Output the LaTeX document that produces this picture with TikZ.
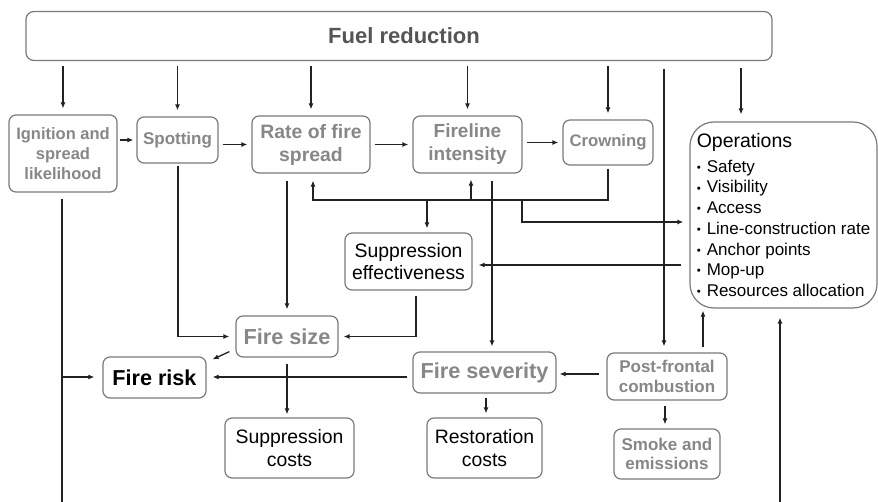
\documentclass[tikz,border=0pt]{standalone}
\usepackage{fontspec}
\setmainfont{Liberation Sans}
\usetikzlibrary{arrows.meta}

\definecolor{boxline}{HTML}{7A7A7A}
\definecolor{behav}{HTML}{878787}
\definecolor{fuelc}{HTML}{555555}
\definecolor{wirec}{HTML}{222222}

\newcommand\fsz[2]{\fontsize{#1}{#2}\selectfont}
% small list bullet for the operations box
\newcommand\opb{\makebox[10pt][l]{\raisebox{0.8pt}{\fsz{11.5}{11.5}•}}}

\begin{document}
\begin{tikzpicture}[x=1pt,y=-1pt,
  sz/.style 2 args={minimum width=#1pt, minimum height=#2pt},
  box/.style={draw=boxline, line width=1.2pt, rounded corners=7pt, inner sep=0pt, align=center},
  behave/.style={box, text=behav, font=\bfseries\fsz{17}{19.5}},
  plain/.style={box, text=black, font=\fsz{19.4}{22.5}},
  wire/.style={draw=wirec, line width=1.3pt},
  arr/.style={wire, -{Latex[length=6pt,width=5pt]}, shorten >=5pt, shorten <=5pt}
]
\useasboundingbox (0,0) rectangle (878,502);
\fill[white] (0,0) rectangle (878,502);

% ---- nodes ----
\node[box, sz={746}{49}, rounded corners=8pt, text=fuelc, font=\bfseries\fsz{22}{24}] (fuel) at (399,36) {\hspace*{10pt}Fuel reduction};

\node[behave, sz={108}{77}, font=\bfseries\fsz{16.5}{20}] (ign) at (63,153.5) {Ignition and\\spread\\likelihood};
\node[behave, sz={81}{46}] (spot) at (177.5,140) {Spotting};
\node[behave, sz={118}{57}, font=\bfseries\fsz{19.4}{23}] (rate) at (311,144.5) {Rate of fire\\spread};
\node[behave, sz={109}{57}, font=\bfseries\fsz{19}{23}] (fire) at (467.5,144.5) {Fireline\\intensity};
\node[behave, sz={90}{45}, font=\bfseries\fsz{16.7}{20}] (crown) at (608,142.5) {Crowning};

\node[box, rounded corners=24pt, sz={187}{186}, align=left, font=\fsz{17}{20.7}] (ops) at (783.5,215)
  {{\fsz{19.5}{24}Operations}\\[4pt]
   \opb Safety\\
   \opb Visibility\\
   \opb Access\\
   \opb Line-construction rate\\
   \opb Anchor points\\
   \opb Mop-up\\
   \opb Resources allocation};

\node[plain, sz={127}{57}] (supeff) at (408.5,261.5) {Suppression\\effectiveness};
\node[behave, sz={102}{41}, font=\bfseries\fsz{21.7}{24}] (fsize) at (287,336.5) {Fire size};
\node[box, sz={103}{41}, font=\bfseries\fsz{21.6}{24}] (frisk) at (154.5,377.5) {Fire risk};
\node[behave, sz={143}{41}, font=\bfseries\fsz{21.7}{24}] (fsev) at (484.5,372.5) {Fire severity};
\node[behave, sz={120}{47}] (post) at (667,376.5) {Post-frontal\\combustion};
\node[plain, sz={129}{60}] (supcost) at (289.5,448) {Suppression\\costs};
\node[plain, sz={115}{60}] (rest) at (484.5,448) {Restoration\\costs};
\node[behave, sz={106}{50}] (smoke) at (667,454) {Smoke and\\emissions};

% ---- junction and free-end coordinates ----
\coordinate (jrate) at (313,200);
\coordinate (jfire) at (471,200);
\coordinate (jsup)  at (427,200);
\coordinate (jops)  at (522,200);
\coordinate (jrisk) at (62,377);
\coordinate (bl) at (62,502);
\coordinate (br) at (780,502);

% ---- fuel reduction feeds ----
\foreach \n in {ign,spot,rate,fire,crown}
  \draw[arr, shorten >=6pt] (fuel.south -| \n) -- (\n.north);
\draw[arr, shorten <=8pt, shorten >=6pt] (664,0 |- fuel.south) -- (664,0 |- post.north);
\draw[arr, shorten <=7pt, shorten >=7pt] (741,0 |- fuel.south) -- (741,0 |- ops.north);

% ---- fire behaviour chain ----
\draw[arr, shorten <=2pt, shorten >=3pt] (ign.east |- spot) -- (spot.west);
\draw[arr, shorten <=4pt, shorten >=4pt] (spot.east |- rate) -- (rate.west);
\draw[arr, shorten <=4pt, shorten >=4pt] (rate.east) -- (fire.west);
\draw[arr, shorten <=4pt, shorten >=4pt] (fire.east |- crown) -- (crown.west);

% ---- crowning feedback ----
\draw[arr, shorten <=3pt, shorten >=7pt] (crown.south) |- (jrate) -- (jrate |- rate.south);
\draw[arr, shorten <=0pt, shorten >=6pt] (jfire) -- (jfire |- fire.south);
\draw[arr, shorten <=0pt, shorten >=4pt] (jsup) -- (jsup |- supeff.north);
\draw[arr, shorten <=0pt, shorten >=6pt] (jops) |- (ops.west |- 0,222);

% ---- operations and suppression ----
\draw[arr, shorten <=8pt, shorten >=6pt] (ops.west |- 0,265) -- (supeff.east |- 0,265);
\draw[arr, shorten >=5pt] (416,0 |- supeff.south) |- (fsize.east);
\draw[arr, shorten <=2pt, shorten >=6pt] (178,0 |- spot.south) |- (fsize.west);
\draw[arr, shorten <=7pt, shorten >=6pt] (fsize |- rate.south) -- (fsize.north);
\draw[arr, shorten <=7pt, shorten >=5pt] (492,0 |- fire.south) -- (492,0 |- fsev.north);

% ---- outcomes ----
\draw[arr, shorten <=0pt, shorten >=0pt] ([xshift=-6pt,yshift=6pt]fsize.south west) -- ([xshift=6pt,yshift=-3pt]frisk.north east);
\draw[arr, shorten <=6pt, shorten >=3pt] (fsize.south) -- (fsize.south |- supcost.north);
\draw[arr, shorten >=6pt] (fsev.west |- jrisk) -- (frisk.east |- jrisk);
\draw[wire, shorten <=6pt] (jrisk |- ign.south) -- (bl);
\draw[arr, shorten <=0pt, shorten >=8pt] (jrisk) -- (frisk.west |- jrisk);
\draw[arr, shorten <=7pt, shorten >=3pt] (post.west |- 0,374) -- (fsev.east |- 0,374);
\draw[arr, shorten <=4pt, shorten >=4pt] (486,0 |- fsev.south) -- (486,0 |- rest.north);
\draw[arr, shorten <=5pt, shorten >=4pt] (665,0 |- post.south) -- (665,0 |- smoke.north);
\draw[arr, shorten <=5pt, shorten >=2pt] (703,0 |- post.north) -- (703,0 |- ops.south);
\draw[arr, shorten <=0pt, shorten >=9pt] (br) -- (br |- ops.south);
\end{tikzpicture}
\end{document}
